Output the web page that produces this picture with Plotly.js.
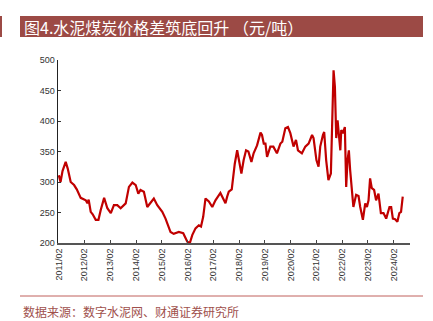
<!DOCTYPE html>
<html>
<head>
<meta charset="utf-8">
<script src="https://cdn.plot.ly/plotly-3.0.1.min.js"></script>
<style>
html,body{margin:0;padding:0;background:#fff;}
#chart{width:433px;height:321px;}
</style>
</head>
<body>
<div id="chart"></div>
<script>
const dates = [
"2011-02-01","2011-02-25","2011-03-25","2011-05-09","2011-06-07","2011-07-19","2011-09-05","2011-10-13","2011-12-08",
"2012-01-20","2012-02-18","2012-03-12","2012-03-30","2012-04-28","2012-05-26","2012-07-08","2012-08-16","2012-09-17","2012-11-04","2012-12-20",
"2013-02-07","2013-03-23","2013-05-10","2013-06-26","2013-09-06","2013-10-22","2013-12-10",
"2014-01-26","2014-03-04","2014-04-04","2014-05-22","2014-07-09","2014-08-24","2014-10-10","2014-11-28",
"2015-02-07","2015-03-25","2015-06-04","2015-07-19","2015-09-29","2015-12-01",
"2016-01-28","2016-03-04","2016-04-07","2016-05-23","2016-07-09","2016-08-09","2016-09-09","2016-10-12","2016-11-28",
"2017-01-16","2017-03-02","2017-05-11","2017-06-19","2017-07-22","2017-08-15","2017-09-07","2017-10-19","2017-12-01",
"2018-01-04","2018-02-06","2018-03-05","2018-04-06","2018-05-10","2018-06-12","2018-07-25","2018-08-25","2018-10-13","2018-12-01","2018-12-22",
"2019-01-16","2019-02-09","2019-03-04","2019-04-19","2019-06-01","2019-07-22","2019-09-09","2019-10-06","2019-11-18","2019-12-25",
"2020-01-28","2020-03-13","2020-04-17","2020-05-15","2020-07-10","2020-08-27","2020-10-13","2020-12-01","2020-12-22",
"2021-02-01","2021-03-03","2021-03-27","2021-05-04","2021-05-22","2021-06-19","2021-07-21","2021-08-25","2021-09-13","2021-10-02","2021-10-21","2021-11-09","2021-11-28","2021-12-18",
"2022-01-06","2022-01-19","2022-02-12","2022-03-11","2022-03-30","2022-04-18","2022-05-07","2022-05-25","2022-06-18","2022-07-10","2022-08-18","2022-09-21","2022-10-15","2022-11-22","2022-12-25",
"2023-01-18","2023-02-10","2023-03-04","2023-03-28","2023-04-30","2023-05-28","2023-07-01","2023-08-04","2023-09-10","2023-10-18","2023-12-04","2023-12-28",
"2024-01-21","2024-02-22","2024-03-25","2024-04-22","2024-05-16","2024-06-09"
];
const priceGap = [
311,300,318,333,322,300,295,288,274,
272,270,265,271,251,247,238,238,254,274,257,
249,262,262,257,265,292,299,
295,281,287,284,259,265,273,262,
251,240,218,215,218,216,
202,200,213,224,229,227,243,273,268,
259,270,282,273,265,276,284,288,330,
352,330,314,336,352,350,333,347,360,381,377,
363,363,341,358,358,347,363,366,388,390,
380,358,369,352,347,358,363,377,372,
336,325,358,377,382,336,303,314,390,483,456,372,401,377,
352,385,380,390,292,336,352,320,281,259,279,277,259,238,265,
259,270,306,290,287,270,281,249,249,240,259,259,
240,239,235,249,251,276
];
const tickDates = ["2011-02-01","2012-02-01","2013-02-01","2014-02-01","2015-02-01","2016-02-01","2017-02-01","2018-02-01","2019-02-01","2020-02-01","2021-02-01","2022-02-01","2023-02-01","2024-02-01"];
const tickLabels = ["2011/02","2012/02","2013/02","2014/02","2015/02","2016/02","2017/02","2018/02","2019/02","2020/02","2021/02","2022/02","2023/02","2024/02"];
const yTicks = [200,250,300,350,400,450,500];

const titleText = "图4.水泥煤炭价格差筑底回升 （元/吨）";
const sourceText = "数据来源：数字水泥网、财通证券研究所";

const trace = {
  x: dates, y: priceGap, type: "scatter", mode: "lines",
  line: {color: "#c00000", width: 2.2, shape: "linear"},
  hoverinfo: "skip", showlegend: false
};

const layout = {
  width: 433, height: 321,
  margin: {l: 58, r: 23, t: 60, b: 78, pad: 0},
  paper_bgcolor: "#ffffff", plot_bgcolor: "#ffffff",
  showlegend: false,
  xaxis: {
    type: "date",
    range: ["2011-01-20", "2024-09-20"],
    tickmode: "array", tickvals: tickDates, ticktext: tickLabels,
    tickangle: -90,
    ticks: "inside", ticklen: 3, tickwidth: 1, tickcolor: "#444",
    showline: true, linecolor: "#555", linewidth: 2,
    showgrid: false, zeroline: false,
    tickfont: {family: "Liberation Sans, Arial, sans-serif", size: 9, color: "#333"},
    fixedrange: true
  },
  yaxis: {
    range: [200, 500],
    tickmode: "array", tickvals: yTicks,
    ticks: "inside", ticklen: 3, tickwidth: 1, tickcolor: "#333",
    showline: true, linecolor: "#222", linewidth: 1.5,
    showgrid: false, zeroline: false,
    tickfont: {family: "Liberation Sans, Arial, sans-serif", size: 9, color: "#333"},
    fixedrange: true
  },
  shapes: [
    {type: "rect", xref: "paper", yref: "paper", x0: (20-58)/352, x1: (423-58)/352, y0: (243-37)/183, y1: (243-16)/183, fillcolor: "#9c4a45", line: {width: 0}, layer: "below"},
    {type: "rect", xref: "paper", yref: "paper", x0: (0-58)/352, x1: (2-58)/352, y0: (243-37)/183, y1: (243-16)/183, fillcolor: "#9c4a45", line: {width: 0}, layer: "below"},
    {type: "line", xref: "paper", yref: "paper", x0: (20-58)/352, x1: (423-58)/352, y0: (243-296)/183, y1: (243-296)/183, line: {color: "#c0605c", width: 1}}
  ],
  annotations: [
    {xref: "paper", yref: "paper", x: (22-58)/352, y: (243-27)/183, xanchor: "left", yanchor: "middle",
     text: titleText, showarrow: false, font: {family: "Noto Sans CJK SC, sans-serif", size: 16, color: "#ffffff"}},
    {xref: "paper", yref: "paper", x: (21-58)/352, y: (243-311)/183, xanchor: "left", yanchor: "middle",
     text: sourceText, showarrow: false, font: {family: "Noto Sans CJK SC, sans-serif", size: 12, color: "#a0504c"}}
  ]
};

Plotly.newPlot("chart", [trace], layout, {displayModeBar: false, staticPlot: true});
</script>
</body>
</html>
